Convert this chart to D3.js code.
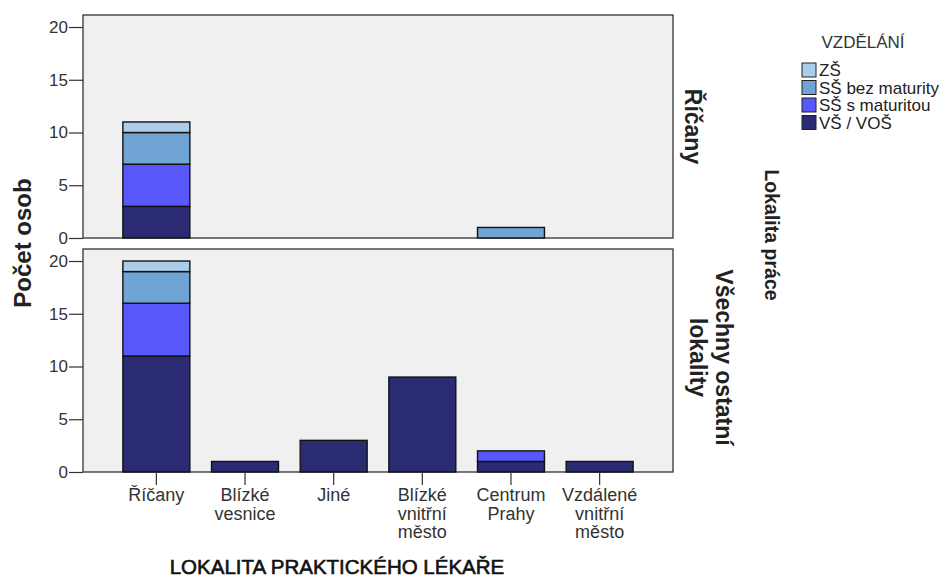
<!DOCTYPE html>
<html lang="cs">
<head>
<meta charset="UTF-8">
<title>Lokalita praktického lékaře</title>
<script src="https://d3js.org/d3.v7.min.js"></script>
<style>
    body { margin: 0; background: #fff; }
    svg text { font-family: Arial, "Liberation Sans", sans-serif; fill: #222; }
    .axis path { display: none; }
    .axis line { stroke: #333; stroke-width: 1.2; }
    .axis text { font-size: 17px; fill: #333; }
</style>
</head>
<body>
<script>
    // kategorie a data
    const categories = ['Říčany', 'Blízké vesnice', 'Jiné', 'Blízké vnitřní město', 'Centrum Prahy', 'Vzdálené vnitřní město'];
    const catLines = [['Říčany'], ['Blízké', 'vesnice'], ['Jiné'], ['Blízké', 'vnitřní', 'město'], ['Centrum', 'Prahy'], ['Vzdálené', 'vnitřní', 'město']];
    const education = ['VŠ / VOŠ', 'SŠ s maturitou', 'SŠ bez maturity', 'ZŠ'];  // poradi od spodu
    const legendOrder = ['ZŠ', 'SŠ bez maturity', 'SŠ s maturitou', 'VŠ / VOŠ'];
    const panels = ['Říčany', 'Všechny ostatní lokality'];
    const panelLines = [['Říčany'], ['Všechny ostatní', 'lokality']];

    // hodnoty po vzdelani, jedna rada na kategorii
    const ricanyVS   = [3, 0, 0, 0, 0, 0];
    const ricanySSm  = [4, 0, 0, 0, 0, 0];
    const ricanySSb  = [3, 0, 0, 0, 1, 0];
    const ricanyZS   = [1, 0, 0, 0, 0, 0];
    const ostatniVS  = [11, 1, 3, 9, 1, 1];
    const ostatniSSm = [5, 0, 0, 0, 1, 0];
    const ostatniSSb = [3, 0, 0, 0, 0, 0];
    const ostatniZS  = [1, 0, 0, 0, 0, 0];
    const yTicks = [0, 5, 10, 15, 20];

    const colors = {
        'ZŠ': '#abcdea',
        'SŠ bez maturity': '#6fa4d4',
        'SŠ s maturitou': '#5858fa',
        'VŠ / VOŠ': '#2b2b72'
    };

    const panelData = [
        [ricanyVS, ricanySSm, ricanySSb, ricanyZS],
        [ostatniVS, ostatniSSm, ostatniSSb, ostatniZS]
    ];

    const svg = d3.select('body').append('svg').attr('width', 952).attr('height', 581);

    const left = 83, right = 673;
    const panelTops = [15, 249];
    const panelH = 223;

    const x = d3.scaleBand().domain(categories).range([left, right]).paddingInner(0.245).paddingOuter(0.45);

    const stack = d3.stack().keys(d3.range(education.length));

    panelData.forEach(function (series, p) {
        const top = panelTops[p];
        const y = d3.scaleLinear().domain([0, 21.14]).range([top + panelH, top]);
        const g = svg.append('g');

        g.append('rect')
            .attr('x', left).attr('y', top)
            .attr('width', right - left).attr('height', panelH)
            .attr('fill', '#f0f0f0').attr('stroke', '#333').attr('stroke-width', 1.3);

        const rows = categories.map(function (c, i) {
            return series.map(function (s) { return s[i]; });
        });
        const stacked = stack(rows);

        stacked.forEach(function (layer, k) {
            g.selectAll(null)
                .data(layer.map(function (d, i) { return {d: d, i: i}; }).filter(function (o) { return o.d[1] > o.d[0]; }))
                .enter().append('rect')
                .attr('x', function (o) { return x(categories[o.i]); })
                .attr('y', function (o) { return y(o.d[1]); })
                .attr('width', x.bandwidth())
                .attr('height', function (o) { return y(o.d[0]) - y(o.d[1]); })
                .attr('fill', colors[education[k]])
                .attr('stroke', '#111').attr('stroke-width', 1.4);
        });

        g.append('g').attr('class', 'axis')
            .attr('transform', 'translate(' + left + ',0)')
            .call(d3.axisLeft(y).tickValues(yTicks).tickSize(14).tickPadding(1));

        // popisek panelu vpravo
        const lines = panelLines[p];
        const cy = top + panelH / 2;
        const baseX = p === 0 ? 685 : 690;
        const lbl = svg.append('text')
            .attr('transform', 'translate(' + baseX + ',' + (p === 0 ? cy : cy - 3) + ') rotate(90)')
            .attr('text-anchor', 'middle')
            .style('font-size', '23px').style('font-weight', 'bold');
        lines.forEach(function (t, j) {
            lbl.append('tspan').attr('x', 0).attr('dy', j === 0 ? -(lines.length - 1) * 26 : 26).text(t);
        });
    });

    // osa x pod spodnim panelem
    const xAxis = svg.append('g').attr('class', 'axis')
        .attr('transform', 'translate(0,' + (panelTops[1] + panelH) + ')')
        .call(d3.axisBottom(x).tickSize(13).tickFormat(''));
    xAxis.selectAll('.tick').each(function (c, i) {
        const t = d3.select(this).append('text')
            .attr('y', 29).attr('text-anchor', 'middle')
            .style('fill', '#333').style('font-size', '18px');
        catLines[i].forEach(function (s, j) {
            t.append('tspan').attr('x', 0).attr('dy', j === 0 ? 0 : 18.5).text(s);
        });
    });

    // nazvy os
    svg.append('text')
        .attr('transform', 'translate(31,243) rotate(-90)')
        .attr('text-anchor', 'middle')
        .style('font-size', '24px').style('font-weight', 'bold')
        .text('Počet osob');

    svg.append('text')
        .attr('x', 337).attr('y', 574)
        .attr('text-anchor', 'middle')
        .style('font-size', '20.5px').style('fill', '#111')
        .style('stroke', '#111').style('stroke-width', 0.6)
        .text('LOKALITA PRAKTICKÉHO LÉKAŘE');

    svg.append('text')
        .attr('transform', 'translate(765,235) rotate(90)')
        .attr('text-anchor', 'middle')
        .style('font-size', '19.5px').style('font-weight', 'bold')
        .text('Lokalita práce');

    // legenda
    const legend = svg.append('g').attr('transform', 'translate(802,0)');
    legend.append('text').attr('x', 61).attr('y', 48)
        .attr('text-anchor', 'middle').style('font-size', '17px').style('fill', '#333')
        .text('VZDĚLÁNÍ');
    legendOrder.forEach(function (k, i) {
        const yy = 63 + i * 17.5;
        legend.append('rect').attr('x', 0).attr('y', yy)
            .attr('width', 14).attr('height', 14)
            .attr('fill', colors[k]).attr('stroke', '#222').attr('stroke-width', 1);
        legend.append('text').attr('x', 17).attr('y', yy + 13)
            .style('font-size', '17px').style('fill', '#222').text(k);
    });
</script>
</body>
</html>
